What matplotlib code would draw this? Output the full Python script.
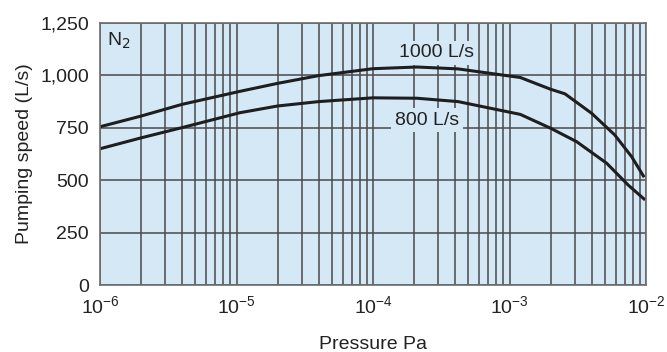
import numpy as np
import matplotlib.pyplot as plt
from matplotlib.ticker import FixedLocator, LogLocator, FuncFormatter, NullFormatter

plt.rcParams['font.family'] = ['Liberation Sans', 'DejaVu Sans']

# pumping speed curves (N2), pressure in Pa
p_1000 = [1e-6, 2e-6, 4e-6, 1.06e-5, 2e-5, 4e-5, 1e-4, 2.1e-4, 4.2e-4,
          1.2e-3, 2.0e-3, 2.55e-3, 4.0e-3, 5.9e-3, 7.85e-3, 9.7e-3]
s_1000 = [755, 806, 862, 924, 962, 999, 1032, 1040, 1031,
          990, 934, 912, 819, 716, 612, 514]

p_800 = [1e-6, 2e-6, 4e-6, 1.06e-5, 2e-5, 4e-5, 1e-4, 2.1e-4, 4.2e-4,
         1.2e-3, 2.0e-3, 3.1e-3, 5.15e-3, 7.4e-3, 9.85e-3]
s_800 = [650, 702, 751, 822, 854, 875, 893, 891, 875,
         814, 748, 684, 581, 477, 406]

y_ticks = [0, 250, 500, 750, 1000, 1250]
bg = '#d5e8f6'
grid_col = '#4a4a4a'
txt = '#222222'

fig = plt.figure(figsize=(6.67, 3.52), dpi=100)
ax = fig.add_axes([100 / 667, 1 - 285 / 352, 546 / 667, 262 / 352])
ax.set_facecolor(bg)

ax.set_xscale('log')
ax.set_xlim(1e-6, 1e-2)
ax.set_ylim(0, 1250)

ax.xaxis.set_major_locator(LogLocator(base=10, numticks=10))
ax.xaxis.set_minor_locator(LogLocator(base=10, subs=np.arange(2, 10), numticks=10))
ax.xaxis.set_minor_formatter(NullFormatter())
ax.yaxis.set_major_locator(FixedLocator(y_ticks))
ax.yaxis.set_major_formatter(FuncFormatter(lambda v, _: f"{int(v):,}"))

ax.grid(True, which='both', axis='x', color=grid_col, lw=1.1)
ax.grid(True, which='major', axis='y', color=grid_col, lw=1.1)
ax.set_axisbelow(True)
ax.tick_params(which='both', length=0, labelsize=14, colors=txt)
ax.tick_params(axis='x', pad=7)
ax.tick_params(axis='y', pad=8)
for sp in ax.spines.values():
    sp.set_color('#6d6d6d')
    sp.set_linewidth(1.2)

for p, s in [(p_1000, s_1000), (p_800, s_800)]:
    ax.plot(p, s, color='#1e1e1e', lw=2.2, solid_joinstyle='round', solid_capstyle='butt')

box = dict(boxstyle='square,pad=0.2', fc=bg, ec='none')
ax.text(2.9e-4, 1107, '1000 L/s', fontsize=14, color=txt, ha='center', va='center', bbox=box)
ax.text(2.5e-4, 787, '800 L/s', fontsize=14, color=txt, ha='center', va='center', bbox=box)
ax.text(0.012, 0.97, 'N$_2$', transform=ax.transAxes, fontsize=14, color=txt, ha='left', va='top')

ax.set_xlabel('Pressure Pa', fontsize=14, color=txt, labelpad=14)
ax.set_ylabel('Pumping speed (L/s)', fontsize=14, color=txt, labelpad=5)

fig.savefig('out.png', dpi=100)
